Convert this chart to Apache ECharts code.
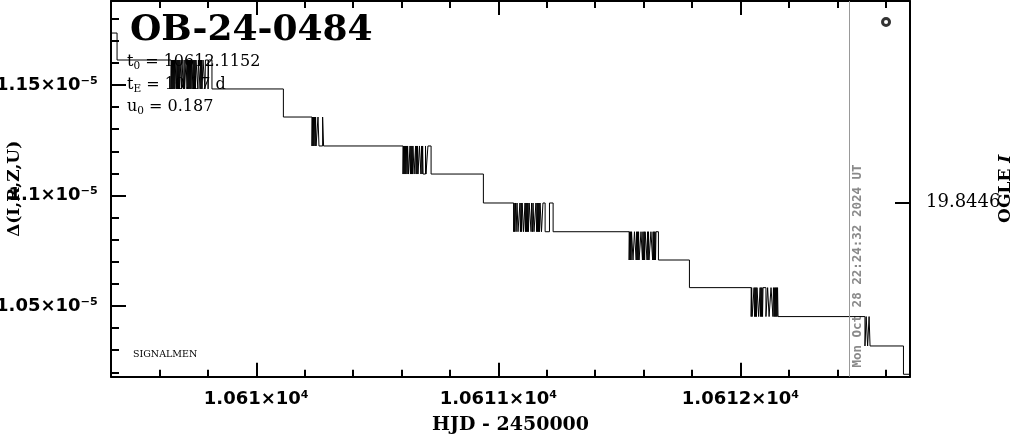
<!DOCTYPE html>
<html><head><meta charset="utf-8">
<script src="https://cdn.jsdelivr.net/npm/echarts@6/dist/echarts.min.js"></script>
<style>html,body{margin:0;padding:0;background:#fff}#c{width:1014px;height:434px}</style>
</head><body><div id="c"></div>
<script>
// ---- axis ticks / labels ----
const xTicks = [10610, 10611, 10612];
const xTickLabels = ['1.061×10⁴', '1.0611×10⁴', '1.0612×10⁴'];
const xMinorTicks = [10609.6, 10609.8, 10610.2, 10610.4, 10610.6, 10610.8, 10611.2, 10611.4, 10611.6, 10611.8, 10612.2, 10612.4, 10612.6];
const yTicks = [1.05e-5, 1.1e-5, 1.15e-5];
const yTickLabels = ['1.05×10⁻⁵', '1.1×10⁻⁵', '1.15×10⁻⁵'];
const yMinorTicks = [1.02e-5, 1.03e-5, 1.04e-5, 1.06e-5, 1.07e-5, 1.08e-5, 1.09e-5, 1.11e-5, 1.12e-5, 1.13e-5, 1.14e-5, 1.16e-5, 1.17e-5, 1.18e-5];
const magTicks = [19.8446];
const magTickLabels = ['19.8446'];

// ---- light-curve data (HJD-2450000, Δ) ----
const deltaLevels = [1.1735e-5, 1.1613e-5, 1.1482e-5, 1.1355e-5, 1.1224e-5, 1.1097e-5, 1.0966e-5,
                     1.0836e-5, 1.0708e-5, 1.0583e-5, 1.0452e-5, 1.0319e-5, 1.0191e-5];
const startHJD = 10609.30;
const endHJD = 10612.80;
const dropHJD = [10609.425, 10610.112, 10610.938, 10611.789, 10612.673];
const cluster1HJD = [10609.648, 10609.650, 10609.652, 10609.654, 10609.656, 10609.658, 10609.660, 10609.662,
  10609.664, 10609.668, 10609.671, 10609.673, 10609.675, 10609.677, 10609.679, 10609.681, 10609.683,
  10609.685, 10609.691, 10609.693, 10609.699, 10609.702, 10609.704, 10609.710, 10609.714, 10609.716,
  10609.718, 10609.720, 10609.722, 10609.724, 10609.726, 10609.728, 10609.730, 10609.733, 10609.735,
  10609.739, 10609.741, 10609.743, 10609.745, 10609.747, 10609.749, 10609.751, 10609.759, 10609.761,
  10609.768, 10609.770, 10609.772, 10609.774, 10609.776, 10609.780, 10609.788, 10609.790, 10609.801,
  10609.803, 10609.817];
const cluster2HJD = [10610.230, 10610.232, 10610.234, 10610.236, 10610.238, 10610.241, 10610.243, 10610.245,
  10610.247, 10610.255, 10610.259, 10610.274, 10610.278];
const cluster3HJD = [10610.606, 10610.608, 10610.610, 10610.612, 10610.614, 10610.616, 10610.618, 10610.621,
  10610.623, 10610.625, 10610.629, 10610.635, 10610.637, 10610.639, 10610.641, 10610.643, 10610.645,
  10610.647, 10610.652, 10610.658, 10610.660, 10610.662, 10610.664, 10610.666, 10610.668, 10610.674,
  10610.680, 10610.683, 10610.685, 10610.687, 10610.689, 10610.699, 10610.701, 10610.709, 10610.722];
const cluster4HJD = [10611.063, 10611.065, 10611.067, 10611.071, 10611.073, 10611.077, 10611.081, 10611.089,
  10611.091, 10611.094, 10611.096, 10611.098, 10611.104, 10611.110, 10611.112, 10611.114, 10611.116,
  10611.118, 10611.120, 10611.122, 10611.124, 10611.127, 10611.135, 10611.137, 10611.141, 10611.143,
  10611.147, 10611.155, 10611.158, 10611.160, 10611.162, 10611.164, 10611.166, 10611.168, 10611.170,
  10611.172, 10611.178, 10611.184, 10611.193, 10611.211, 10611.226];
const cluster5HJD = [10611.540, 10611.542, 10611.544, 10611.546, 10611.548, 10611.550, 10611.556, 10611.562,
  10611.569, 10611.571, 10611.573, 10611.575, 10611.577, 10611.579, 10611.581, 10611.589, 10611.595,
  10611.597, 10611.599, 10611.602, 10611.604, 10611.606, 10611.614, 10611.616, 10611.618, 10611.620,
  10611.622, 10611.630, 10611.637, 10611.639, 10611.641, 10611.643, 10611.645, 10611.647, 10611.649,
  10611.651, 10611.661];
const cluster6HJD = [10612.044, 10612.046, 10612.048, 10612.056, 10612.058, 10612.060, 10612.062, 10612.064,
  10612.066, 10612.068, 10612.075, 10612.081, 10612.083, 10612.085, 10612.087, 10612.089, 10612.091,
  10612.093, 10612.105, 10612.112, 10612.118, 10612.126, 10612.134, 10612.136, 10612.139, 10612.141,
  10612.143, 10612.145, 10612.147, 10612.149, 10612.151, 10612.153, 10612.155];
const cluster7HJD = [10612.514, 10612.519, 10612.525, 10612.531, 10612.535];
const nowHJD = [10612.455];
const markerHJD = [10612.601];
const markerDelta = [1.1785e-5];

// build step series from the arrays
const curve = [[startHJD, deltaLevels[0]]];
function drop(t, li) { curve.push([t, deltaLevels[li]]); }
function flicker(times, hi, lo) { times.forEach((t, i) => curve.push([t, deltaLevels[i % 2 === 0 ? lo : hi]])); }
drop(dropHJD[0], 1); flicker(cluster1HJD, 1, 2);
drop(dropHJD[1], 3); flicker(cluster2HJD, 3, 4); flicker(cluster3HJD, 4, 5);
drop(dropHJD[2], 6); flicker(cluster4HJD, 6, 7); flicker(cluster5HJD, 7, 8);
drop(dropHJD[3], 9); flicker(cluster6HJD, 9, 10); flicker(cluster7HJD, 10, 11);
drop(dropHJD[4], 12); curve.push([endHJD, deltaLevels[12]]);

function pick(ticks, labels) {
  return v => { for (let i = 0; i < ticks.length; i++) if (Math.abs(v - ticks[i]) < Math.abs(ticks[i]) * 1e-6) return labels[i]; return ''; };
}
const tickFont = { fontFamily: 'DejaVu Sans', fontWeight: 'bold', fontSize: 18, color: '#000' };
const nameFont = { fontFamily: 'DejaVu Serif', fontWeight: 'bold', fontSize: 17, color: '#000' };
const blk = { color: '#000', width: 2 };
const paramRich = {
  n: { fontFamily: 'DejaVu Serif', fontSize: 16, lineHeight: 19, fill: '#000' },
  s: { fontFamily: 'DejaVu Serif', fontSize: 10.5, lineHeight: 10, verticalAlign: 'bottom', fill: '#000' }
};

const XMIN = 10609.4, XMAX = 10612.7, YMIN = 1.018e-5, YMAX = 1.188e-5;
function xAx(pos, ticks, len, labels) {
  return {
    type: 'value', position: pos, min: XMIN, max: XMAX,
    axisLine: { show: !!labels || pos === 'top' && len > 10, lineStyle: blk },
    axisTick: { show: true, inside: true, length: len, lineStyle: blk, customValues: ticks },
    axisLabel: labels ? Object.assign({ show: true, customValues: ticks, formatter: pick(ticks, labels), margin: 14 }, tickFont) : { show: false },
    splitLine: { show: false }
  };
}
const chart = echarts.init(document.getElementById('c'));
chart.setOption({
  animation: false,
  grid: { left: 111, top: 1, width: 799, height: 375.7, outerBoundsMode: 'none', containLabel: false },
  xAxis: [
    Object.assign(xAx('bottom', xTicks, 14, xTickLabels), { name: 'HJD - 2450000', nameLocation: 'middle', nameGap: 39, nameMoveOverlap: false,
      nameTextStyle: Object.assign({}, nameFont, { fontSize: 19 }) }),
    xAx('bottom', xMinorTicks, 7, null),
    xAx('top', xTicks, 14, null),
    xAx('top', xMinorTicks, 7, null)
  ],
  yAxis: [
    {
      type: 'value', position: 'left', min: YMIN, max: YMAX,
      name: 'Δ(I,R,Z,U)', nameLocation: 'middle', nameGap: 88, nameMoveOverlap: false, nameTextStyle: nameFont,
      axisLine: { show: true, lineStyle: blk },
      axisTick: { show: true, inside: true, length: 15, lineStyle: blk, customValues: yTicks },
      axisLabel: Object.assign({ show: true, customValues: yTicks, formatter: pick(yTicks, yTickLabels), margin: 13 }, tickFont),
      splitLine: { show: false }
    },
    {
      type: 'value', position: 'left', min: YMIN, max: YMAX,
      axisLine: { show: false },
      axisTick: { show: true, inside: true, length: 8, lineStyle: blk, customValues: yMinorTicks },
      axisLabel: { show: false }, splitLine: { show: false }
    },
    {
      type: 'value', position: 'right', min: 19.8, max: 19.8963,
      name: 'OGLE {i|I}', nameLocation: 'middle', nameGap: 87, nameMoveOverlap: false,
      nameTextStyle: Object.assign({ rich: { i: { fontFamily: 'DejaVu Serif', fontWeight: 'bold', fontStyle: 'italic', fontSize: 17, color: '#000' } } }, nameFont),
      axisLine: { show: true, lineStyle: blk },
      axisTick: { show: true, inside: true, length: 15, lineStyle: blk, customValues: magTicks },
      axisLabel: { show: true, customValues: magTicks, formatter: pick(magTicks, magTickLabels), margin: 16,
        fontFamily: 'DejaVu Serif', fontSize: 18, color: '#000' },
      splitLine: { show: false }
    }
  ],
  series: [
    {
      type: 'line', xAxisIndex: 0, yAxisIndex: 0, step: 'end', data: curve,
      showSymbol: false, symbol: 'none', silent: true,
      lineStyle: { color: '#000', width: 1 },
      markLine: { silent: true, symbol: 'none', label: { show: false },
        lineStyle: { color: '#999', width: 1, type: 'solid' },
        data: nowHJD.map(v => ({ xAxis: v })) }
    },
    {
      type: 'scatter', xAxisIndex: 0, yAxisIndex: 0, silent: true,
      data: markerHJD.map((t, i) => [t, markerDelta[i]]),
      symbol: 'circle', symbolSize: 7,
      itemStyle: { color: '#fff', borderColor: '#000', borderWidth: 3 }
    }
  ],
  graphic: [
    { type: 'text', x: 130, y: 31, z: 0, style: { text: 'OB-24-0484', fontFamily: 'DejaVu Serif', fontWeight: 'bold', fontSize: 36, fill: '#000', verticalAlign: 'middle' } },
    { type: 'text', x: 127, y: 62, z: 0, style: { text: '{n|t}{s|0}{n| = 10612.1152}', verticalAlign: 'middle', rich: paramRich } },
    { type: 'text', x: 127, y: 85, z: 0, style: { text: '{n|t}{s|E}{n| = 10.17 d}', verticalAlign: 'middle', rich: paramRich } },
    { type: 'text', x: 127, y: 107, z: 0, style: { text: '{n|u}{s|0}{n| = 0.187}', verticalAlign: 'middle', rich: paramRich } },
    { type: 'text', x: 133, y: 355, z: 0, style: { text: 'SIGNALMEN', fontFamily: 'DejaVu Serif', fontSize: 9.5, fill: '#000', verticalAlign: 'middle' } },
    { type: 'text', x: 858, y: 266, rotation: Math.PI / 2, z: 0, style: { text: 'Mon Oct 28 22:24:32 2024 UT', fontFamily: 'DejaVu Sans Mono', fontWeight: 'bold', fontSize: 12.5, fill: '#8a8a8a', align: 'center', verticalAlign: 'middle' } }
  ]
});
</script></body></html>
